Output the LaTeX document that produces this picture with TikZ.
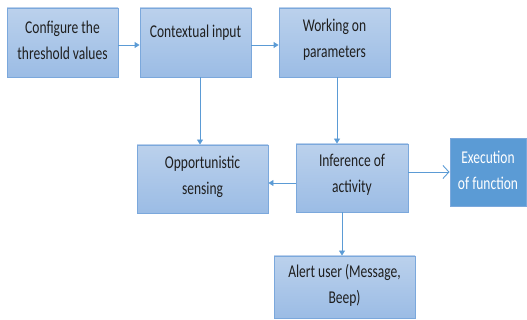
\documentclass[tikz,border=0pt]{standalone}
\usepackage{fontspec}
\newfontfamily\cf[FakeStretch=0.75]{Carlito}
\usetikzlibrary{arrows.meta}
\definecolor{boxtop}{HTML}{BBD1EC}
\definecolor{boxbot}{HTML}{9BBCE5}
\definecolor{boxline}{HTML}{7BA8DC}
\definecolor{darkbox}{HTML}{5B9BD5}
\definecolor{arrc}{HTML}{5B9BD5}
\begin{document}
\begin{tikzpicture}[x=1pt,y=-1pt,
  box/.style={draw=boxline,line width=0.9pt,top color=boxtop,bottom color=boxbot,inner sep=0pt},
  darkbx/.style={draw=boxline,line width=0.9pt,fill=darkbox,inner sep=0pt},
  txt/.style={align=center,inner sep=0pt,font=\cf\fontsize{18}{26}\selectfont,text=black!88},
  arr/.style={draw=arrc,line width=0.9pt,-{Triangle[width=6pt,length=5pt]}},
  oarr/.style={draw=arrc,line width=0.9pt,-{Straight Barb[width=13pt,length=6pt]}}]
\useasboundingbox (0,0) rectangle (527,320);
% boxes
\node[box,minimum width=111,minimum height=69] (b1) at (62.5,42.5) {};
\node[box,minimum width=111,minimum height=69] (b2) at (195.5,42.5) {};
\node[box,minimum width=111,minimum height=69] (b3) at (334.5,42.5) {};
\node[box,minimum width=131,minimum height=68] (opp) at (202.5,179) {};
\node[box,minimum width=112,minimum height=68] (inf) at (352,178) {};
\node[darkbx,minimum width=76,minimum height=68] (exe) at (488,172) {};
\node[box,minimum width=141,minimum height=62] (al) at (344.5,287) {};
% texts
\node[txt] (t1) at (62.5,40) {Configure the\\threshold values};
\node[txt] (t2) at (195.5,33) {Contextual input};
\node[txt] (t3) at (334.5,40) {Working on\\parameters};
\node[txt] (t4) at (202.5,176.5) {Opportunistic\\sensing};
\node[txt] (t5) at (352,174.5) {Inference of\\activity};
\node[txt,text=white] (t6) at (488,170.5) {Execution\\of function};
\node[txt] (t7) at (344.5,285.5) {Alert user (Message,\\Beep)};
% connectors
\draw[arr] ([yshift=-2.5pt]b1.east) -- ([yshift=-2.5pt]b2.west);
\draw[arr] ([yshift=-2.5pt]b2.east) -- ([yshift=-2.5pt]b3.west);
\draw[arr] ([xshift=4.5pt]b2.south) -- ([xshift=4.5pt]b2.south |- opp.north);
\draw[arr] ([xshift=2.5pt]b3.south) -- ([xshift=2.5pt]b3.south |- inf.north);
\draw[arr] ([yshift=-5pt]inf.west) -- ([yshift=-5pt]inf.west -| opp.east);
\draw[oarr] ([yshift=6pt]inf.east) -- (exe.west);
\draw[arr] ([xshift=-10pt]inf.south) -- ([xshift=-10pt]inf.south |- al.north);
\end{tikzpicture}
\end{document}
